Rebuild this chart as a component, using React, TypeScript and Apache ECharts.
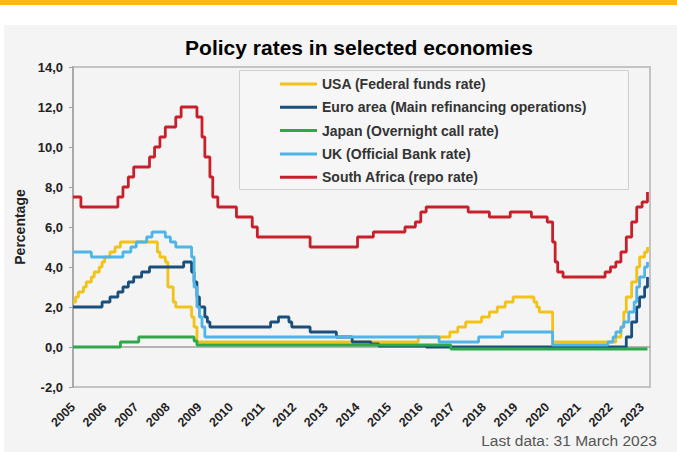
import React, { useEffect, useRef } from "react";
import * as echarts from "echarts";

// Change points: [decimal year, rate %]; value holds until the next point
const usaRate: [number, number][] = [
  [2005.0, 2.25], [2005.08, 2.5], [2005.17, 2.75], [2005.33, 3.0], [2005.42, 3.25],
  [2005.58, 3.5], [2005.67, 3.75], [2005.83, 4.0], [2005.92, 4.25], [2006.0, 4.5],
  [2006.17, 4.75], [2006.33, 5.0], [2006.5, 5.25], [2007.67, 4.75], [2007.75, 4.5],
  [2007.92, 4.25], [2008.0, 3.0], [2008.17, 2.25], [2008.25, 2.0], [2008.75, 1.5],
  [2008.83, 1.0], [2008.92, 0.25], [2015.92, 0.5], [2016.92, 0.75], [2017.17, 1.0],
  [2017.42, 1.25], [2017.92, 1.5], [2018.17, 1.75], [2018.42, 2.0], [2018.67, 2.25],
  [2018.92, 2.5], [2019.58, 2.25], [2019.67, 2.0], [2019.75, 1.75], [2020.17, 0.25],
  [2022.17, 0.5], [2022.33, 1.0], [2022.42, 1.75], [2022.5, 2.5], [2022.67, 3.25],
  [2022.83, 4.0], [2022.92, 4.5], [2023.08, 4.75], [2023.17, 5.0],
];

const euroRate: [number, number][] = [
  [2005.0, 2.0], [2005.92, 2.25], [2006.17, 2.5], [2006.42, 2.75], [2006.58, 3.0],
  [2006.75, 3.25], [2006.92, 3.5], [2007.17, 3.75], [2007.42, 4.0], [2008.5, 4.25],
  [2008.75, 3.75], [2008.83, 3.25], [2008.92, 2.5], [2009.0, 2.0], [2009.17, 1.5],
  [2009.25, 1.25], [2009.33, 1.0], [2011.25, 1.25], [2011.5, 1.5], [2011.83, 1.25],
  [2011.92, 1.0], [2012.5, 0.75], [2013.33, 0.5], [2013.83, 0.25], [2014.42, 0.15],
  [2014.67, 0.05], [2016.17, 0.0], [2022.5, 0.5], [2022.67, 1.25], [2022.83, 2.0],
  [2022.92, 2.5], [2023.08, 3.0], [2023.17, 3.5],
];

const japanRate: [number, number][] = [
  [2005.0, 0.0], [2006.5, 0.25], [2007.08, 0.5], [2008.83, 0.3], [2008.92, 0.1],
  [2016.95, -0.1], [2023.17, -0.1],
];

const ukRate: [number, number][] = [
  [2005.0, 4.75], [2005.58, 4.5], [2006.58, 4.75], [2006.83, 5.0], [2007.0, 5.25],
  [2007.33, 5.5], [2007.5, 5.75], [2007.92, 5.5], [2008.08, 5.25], [2008.25, 5.0],
  [2008.75, 4.5], [2008.83, 3.0], [2008.92, 2.0], [2009.0, 1.5], [2009.08, 1.0],
  [2009.17, 0.5], [2016.58, 0.25], [2017.83, 0.5], [2018.58, 0.75], [2020.17, 0.1],
  [2021.92, 0.25], [2022.08, 0.5], [2022.17, 0.75], [2022.33, 1.0], [2022.42, 1.25],
  [2022.58, 1.75], [2022.75, 2.25], [2022.83, 3.0], [2022.92, 3.5], [2023.08, 4.0],
  [2023.17, 4.25],
];

const southAfricaRate: [number, number][] = [
  [2005.0, 7.5], [2005.25, 7.0], [2006.42, 7.5], [2006.58, 8.0], [2006.75, 8.5],
  [2006.92, 9.0], [2007.42, 9.5], [2007.58, 10.0], [2007.75, 10.5], [2007.92, 11.0],
  [2008.25, 11.5], [2008.42, 12.0], [2008.92, 11.5], [2009.08, 10.5], [2009.17, 9.5],
  [2009.33, 8.5], [2009.42, 7.5], [2009.58, 7.0], [2010.17, 6.5], [2010.67, 6.0],
  [2010.83, 5.5], [2012.5, 5.0], [2014.0, 5.5], [2014.5, 5.75], [2015.5, 6.0],
  [2015.83, 6.25], [2016.0, 6.75], [2016.17, 7.0], [2017.5, 6.75], [2018.17, 6.5],
  [2018.83, 6.75], [2019.5, 6.5], [2020.0, 6.25], [2020.17, 5.25], [2020.25, 4.25],
  [2020.33, 3.75], [2020.5, 3.5], [2021.83, 3.75], [2022.0, 4.0], [2022.17, 4.25],
  [2022.33, 4.75], [2022.5, 5.5], [2022.67, 6.25], [2022.83, 7.0], [2023.0, 7.25],
  [2023.17, 7.75],
];

const seriesNames = [
  "USA (Federal funds rate)",
  "Euro area (Main refinancing operations)",
  "Japan (Overnight call rate)",
  "UK (Official Bank rate)",
  "South Africa (repo rate)",
];
const seriesColors = ["#F2C316", "#1B4F7B", "#2EA84A", "#4FB4E8", "#C8202B"];
const seriesData = [usaRate, euroRate, japanRate, ukRate, southAfricaRate];

const titleText = "Policy rates in selected economies";
const yAxisName = "Percentage";
const footnote = "Last data: 31 March 2023";
const yMin = -2;
const yMax = 14;
const yStep = 2;
const xStartYear = 2005;
const xEndYear = 2023.25;

const FONT = "'Liberation Sans', Arial, sans-serif";

export default function App() {
  const ref = useRef<HTMLDivElement>(null);
  useEffect(() => {
    if (!ref.current) return;
    const chart = echarts.init(ref.current, null, { renderer: "svg" });
    chart.setOption({
      animation: false,
      backgroundColor: "#f4f4f4",
      textStyle: { fontFamily: FONT },
      title: {
        text: titleText,
        left: 359,
        top: 37,
        textAlign: "center",
        padding: 0,
        textStyle: { fontSize: 21, fontWeight: "bold", color: "#000", fontFamily: FONT },
      },
      graphic: [
        { type: "rect", z: 0, shape: { x: 0, y: 0, width: 677, height: 25 }, style: { fill: "#ffffff" } },
        { type: "rect", z: 0, shape: { x: 0, y: 25, width: 4, height: 427 }, style: { fill: "#ffffff" } },
        { type: "rect", z: 1, shape: { x: 0, y: 0, width: 677, height: 5 }, style: { fill: "#FCB813" } },
        {
          type: "rect",
          z: 1,
          shape: { x: 239.5, y: 70.5, width: 389, height: 119 },
          style: { fill: "#f6f6f6", stroke: "#cfcfcf", lineWidth: 1 },
        },
        {
          type: "text",
          z: 5,
          style: {
            text: footnote,
            x: 657,
            y: 440.5,
            align: "right",
            verticalAlign: "middle",
            fontSize: 15.5,
            fill: "#555",
            fontFamily: FONT,
          },
        },
      ],
      legend: {
        orient: "vertical",
        left: 280,
        top: 77,
        padding: 0,
        itemGap: 9.3,
        itemWidth: 37,
        itemHeight: 3,
        icon: "rect",
        z: 6,
        textStyle: { fontSize: 14, fontWeight: "bold", color: "#333", lineHeight: 14, fontFamily: FONT },
        data: seriesNames,
      },
      grid: {
        left: 73,
        right: 27,
        top: 67,
        bottom: 65,
        show: true,
        borderColor: "#c3c3c3",
        borderWidth: 2,
        backgroundColor: "transparent",
      },
      xAxis: {
        type: "value",
        min: xStartYear,
        max: xEndYear,
        interval: 1,
        splitLine: { show: false },
        axisTick: { show: false },
        axisLine: { lineStyle: { color: "#a0a0a0", width: 1.5 } },
        axisLabel: {
          rotate: 45,
          margin: 18,
          fontSize: 12.5,
          fontWeight: "bold",
          color: "#222",
          fontFamily: FONT,
          formatter: (v: number) => (Math.abs(v - Math.round(v)) < 1e-6 ? String(Math.round(v)) : ""),
        },
      },
      yAxis: {
        type: "value",
        min: yMin,
        max: yMax,
        interval: yStep,
        name: yAxisName,
        nameLocation: "middle",
        nameGap: 44,
        nameTextStyle: { fontSize: 14, fontWeight: "bold", color: "#222", fontFamily: FONT },
        splitLine: { show: false },
        axisLine: { show: true, lineStyle: { color: "#a0a0a0", width: 1.5 } },
        axisTick: { show: true, length: 4, lineStyle: { color: "#a0a0a0" } },
        axisLabel: {
          margin: 10,
          fontSize: 13,
          fontWeight: "bold",
          color: "#222",
          fontFamily: FONT,
          formatter: (v: number) => v.toFixed(1).replace(".", ","),
        },
      },
      series: seriesNames.map((name, i) => ({
        name,
        type: "line",
        step: "end",
        symbol: "none",
        data: seriesData[i],
        color: seriesColors[i],
        lineStyle: { width: 2.8, color: seriesColors[i] },
      })),
    });
    return () => chart.dispose();
  }, []);
  return (
    <div
      ref={ref}
      style={{ position: "absolute", left: 0, top: 0, width: 677, height: 452 }}
    />
  );
}
